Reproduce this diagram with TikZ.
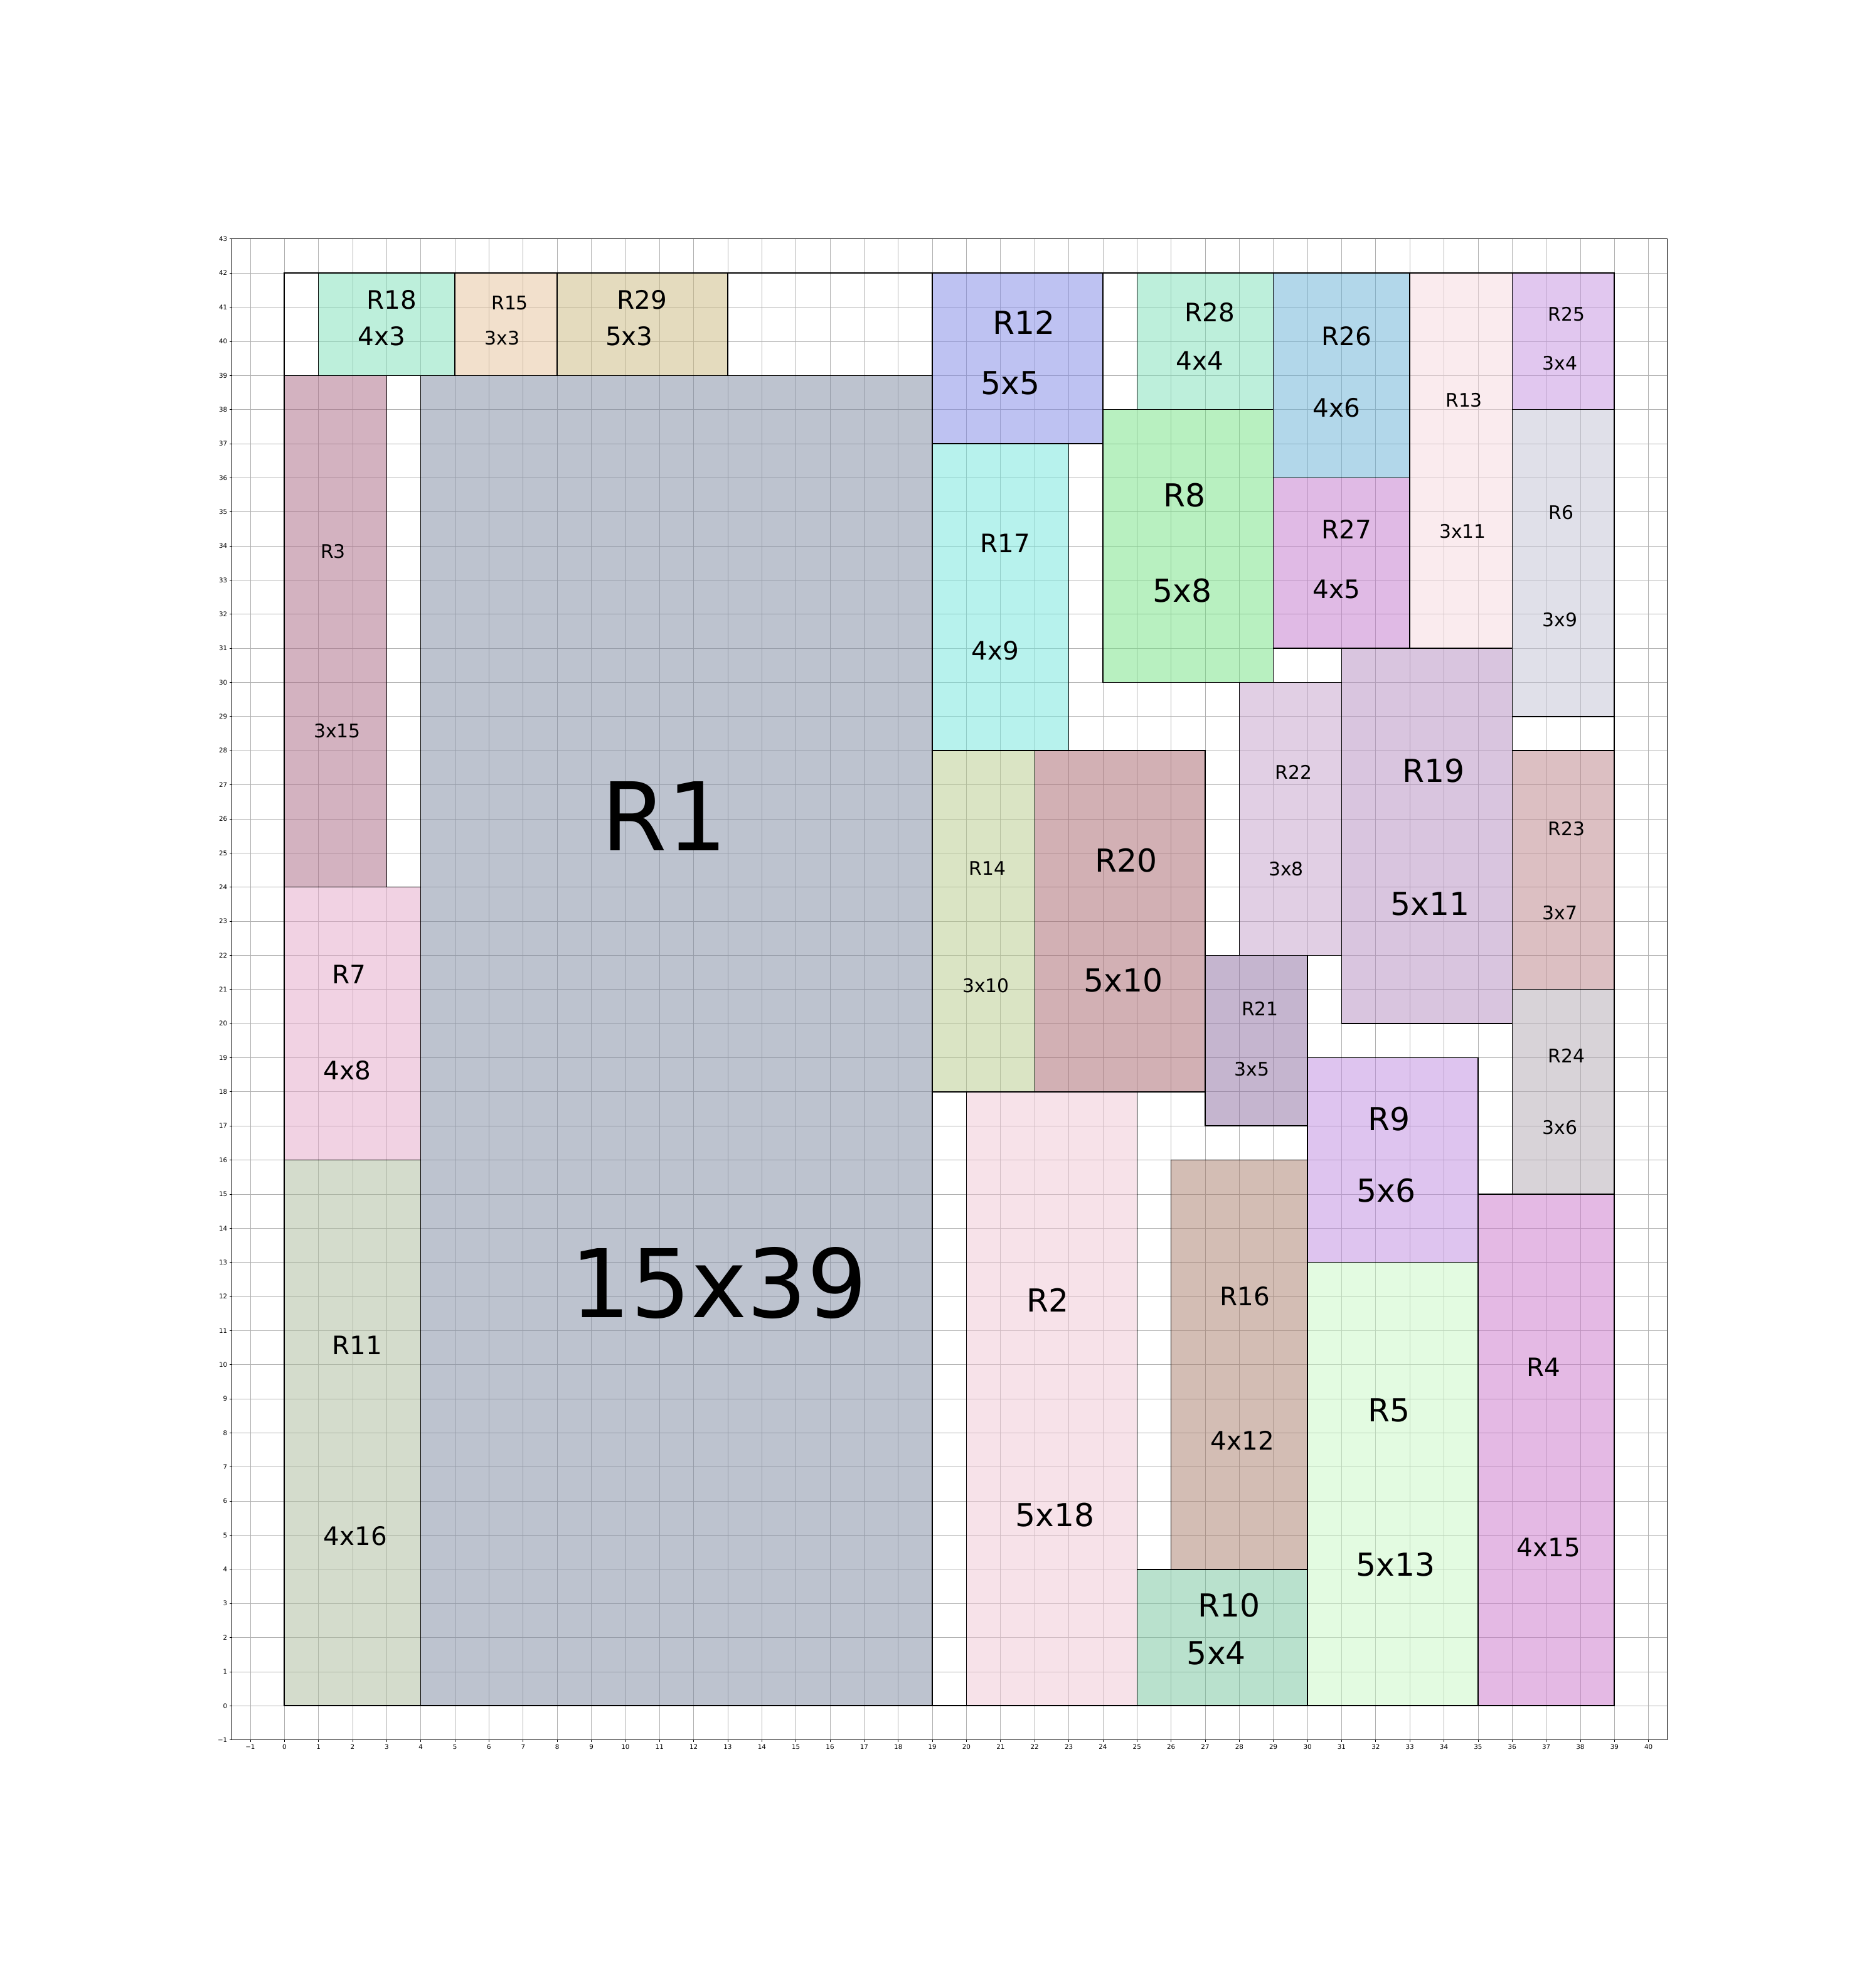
\documentclass[tikz,border=0pt]{standalone}
\usepackage{fontspec}
\setmainfont{DejaVu Sans}
\definecolor{gridgray}{HTML}{B0B0B0}
\definecolor{cR1}{RGB}{125,137,161}
\definecolor{cR2}{RGB}{241,199,213}
\definecolor{cR3}{RGB}{169,103,131}
\definecolor{cR4}{RGB}{203,117,203}
\definecolor{cR5}{RGB}{201,249,197}
\definecolor{cR6}{RGB}{195,195,213}
\definecolor{cR7}{RGB}{229,167,201}
\definecolor{cR8}{RGB}{115,227,131}
\definecolor{cR9}{RGB}{191,139,225}
\definecolor{cR10}{RGB}{117,197,157}
\definecolor{cR11}{RGB}{171,187,155}
\definecolor{cR12}{RGB}{127,135,231}
\definecolor{cR13}{RGB}{247,217,223}
\definecolor{cR14}{RGB}{183,203,139}
\definecolor{cR15}{RGB}{231,195,155}
\definecolor{cR16}{RGB}{169,125,107}
\definecolor{cR17}{RGB}{113,231,221}
\definecolor{cR18}{RGB}{125,225,185}
\definecolor{cR19}{RGB}{181,141,193}
\definecolor{cR20}{RGB}{167,99,107}
\definecolor{cR21}{RGB}{141,109,161}
\definecolor{cR22}{RGB}{197,161,203}
\definecolor{cR23}{RGB}{187,129,135}
\definecolor{cR24}{RGB}{179,169,179}
\definecolor{cR25}{RGB}{197,145,225}
\definecolor{cR26}{RGB}{103,177,215}
\definecolor{cR27}{RGB}{195,119,205}
\definecolor{cR28}{RGB}{125,225,185}
\definecolor{cR29}{RGB}{203,185,127}
\begin{document}
\begin{tikzpicture}[x=1cm,y=1cm,
  rectedge/.style={draw=black, line width=0.75pt},
  lab/.style={anchor=base, inner sep=0pt, text=black},
  fa/.style={lab, font=\fontsize{15.6}{16}\selectfont, yshift=-0.200cm},
  fb/.style={lab, font=\fontsize{21.2}{22}\selectfont, yshift=-0.2715cm},
  fc/.style={lab, font=\fontsize{26.4}{27}\selectfont, yshift=-0.338cm},
  fd/.style={lab, font=\fontsize{79}{80}\selectfont, yshift=-1.012cm},
  gridline/.style={draw=gridgray, line width=0.39pt},
  axisline/.style={draw=black, line width=0.39pt},
  ticklab/.style={inner sep=0pt, font=\fontsize{5.4}{6}\selectfont},
]
\useasboundingbox (-8.339,-8.273) rectangle (45.966,50.006);
\fill[white] (-8.339,-8.273) rectangle (45.966,50.006);

% grid
\foreach \gx in {-1,...,40} \draw[gridline] (\gx,-1) -- (\gx,43);
\foreach \gy in {-1,...,43} \draw[gridline] (-1.546,\gy) -- (40.545,\gy);

% rectangle fills
\foreach \rx/\ry/\rw/\rh/\rc in {
  4/0/15/39/cR1, 1/39/4/3/cR18, 5/39/3/3/cR15, 8/39/5/3/cR29,
  0/24/3/15/cR3, 0/16/4/8/cR7, 0/0/4/16/cR11,
  19/37/5/5/cR12, 19/28/4/9/cR17, 25/38/4/4/cR28, 24/30/5/8/cR8,
  29/36/4/6/cR26, 29/31/4/5/cR27, 33/31/3/11/cR13, 36/38/3/4/cR25,
  36/29/3/9/cR6, 19/18/3/10/cR14, 22/18/5/10/cR20, 28/22/3/8/cR22,
  31/20/5/11/cR19, 36/21/3/7/cR23, 27/17/3/5/cR21, 36/15/3/6/cR24,
  30/13/5/6/cR9, 20/0/5/18/cR2, 26/4/4/12/cR16, 25/0/5/4/cR10,
  30/0/5/13/cR5, 35/0/4/15/cR4}
  \fill[\rc, fill opacity=0.5] (\rx,\ry) rectangle ++(\rw,\rh);

% rectangle edges
\foreach \rx/\ry/\rw/\rh in {
  4/0/15/39, 1/39/4/3, 5/39/3/3, 8/39/5/3,
  0/24/3/15, 0/16/4/8, 0/0/4/16,
  19/37/5/5, 19/28/4/9, 25/38/4/4, 24/30/5/8,
  29/36/4/6, 29/31/4/5, 33/31/3/11, 36/38/3/4,
  36/29/3/9, 19/18/3/10, 22/18/5/10, 28/22/3/8,
  31/20/5/11, 36/21/3/7, 27/17/3/5, 36/15/3/6,
  30/13/5/6, 20/0/5/18, 26/4/4/12, 25/0/5/4,
  30/0/5/13, 35/0/4/15}
  \draw[rectedge] (\rx,\ry) rectangle ++(\rw,\rh);

% container
\draw[draw=black, line width=1pt] (0,0) rectangle (39,42);

% axes frame and ticks
\draw[axisline] (-1.546,-1) rectangle (40.545,43);
\foreach \gx in {-1,...,40} \draw[axisline] (\gx,-1) -- (\gx,-1.0605);
\foreach \gy in {-1,...,43} \draw[axisline] (-1.546,\gy) -- (-1.6065,\gy);
\node[ticklab, anchor=north] (xtm1) at (-1,-1.122) {−1};
\foreach \gx in {0,...,40} \node[ticklab, anchor=north] (xt\gx) at (\gx,-1.122) {\gx};
\node[ticklab, anchor=east] (ytm1) at (-1.668,-1) {−1};
\foreach \gy in {0,...,43} \node[ticklab, anchor=east] (yt\gy) at (-1.668,\gy) {\gy};

% labels
\node[fb] (n18) at (3.14,41.22) {R18};  \node[fb] (d18) at (2.85,40.15) {4x3};
\node[fa] (n15) at (6.61,41.13) {R15};  \node[fa] (d15) at (6.39,40.09) {3x3};
\node[fb] (n29) at (10.49,41.22) {R29}; \node[fb] (d29) at (10.11,40.15) {5x3};
\node[fc] (n12) at (21.68,40.54) {R12}; \node[fc] (d12) at (21.29,38.78) {5x5};
\node[fb] (n28) at (27.13,40.85) {R28}; \node[fb] (d28) at (26.84,39.44) {4x4};
\node[fb] (n26) at (31.15,40.15) {R26}; \node[fb] (d26) at (30.85,38.05) {4x6};
\node[fa] (n13) at (34.59,38.28) {R13}; \node[fa] (d13) at (34.55,34.43) {3x11};
\node[fa] (n25) at (37.59,40.79) {R25}; \node[fa] (d25) at (37.40,39.37) {3x4};
\node[fb] (n17) at (21.14,34.07) {R17}; \node[fb] (d17) at (20.85,30.93) {4x9};
\node[fc] (n8) at (26.39,35.48) {R8};   \node[fc] (d8) at (26.33,32.69) {5x8};
\node[fb] (n27) at (31.15,34.49) {R27}; \node[fb] (d27) at (30.85,32.73) {4x5};
\node[fa] (n6) at (37.44,34.99) {R6};   \node[fa] (d6) at (37.40,31.83) {3x9};
\node[fa] (n22) at (29.59,27.36) {R22}; \node[fa] (d22) at (29.37,24.53) {3x8};
\node[fc] (n19) at (33.69,27.41) {R19}; \node[fc] (d19) at (33.59,23.52) {5x11};
\node[fa] (n23) at (37.60,25.72) {R23}; \node[fa] (d23) at (37.40,23.25) {3x7};
\node[fa] (n14) at (20.61,24.56) {R14}; \node[fa] (d14) at (20.57,21.12) {3x10};
\node[fc] (n20) at (24.68,24.78) {R20}; \node[fc] (d20) at (24.60,21.27) {5x10};
\node[fa] (n21) at (28.61,20.43) {R21}; \node[fa] (d21) at (28.37,18.67) {3x5};
\node[fa] (n24) at (37.60,19.05) {R24}; \node[fa] (d24) at (37.40,16.95) {3x6};
\node[fc] (n9) at (32.39,17.20) {R9};   \node[fc] (d9) at (32.31,15.10) {5x6};
\node[fc] (n2) at (22.38,11.89) {R2};   \node[fc] (d2) at (22.59,5.59) {5x18};
\node[fb] (n16) at (28.16,12.01) {R16}; \node[fb] (d16) at (28.09,7.77) {4x12};
\node[fb] (n4) at (36.92,9.92) {R4};    \node[fb] (d4) at (37.07,4.64) {4x15};
\node[fc] (n5) at (32.39,8.67) {R5};    \node[fc] (d5) at (32.59,4.14) {5x13};
\node[fc] (n10) at (27.70,2.95) {R10};  \node[fc] (d10) at (27.33,1.54) {5x4};
\node[fa] (n3) at (1.43,33.85) {R3};    \node[fa] (d3) at (1.55,28.59) {3x15};
\node[fd] (n1) at (11.15,26.08) {R1};   \node[fd] (d1) at (12.74,12.39) {15x39};
\node[fb] (n7) at (1.90,21.45) {R7};    \node[fb] (d7) at (1.84,18.62) {4x8};
\node[fb] (n11) at (2.13,10.57) {R11};  \node[fb] (d11) at (2.08,4.97) {4x16};
\end{tikzpicture}
\end{document}
